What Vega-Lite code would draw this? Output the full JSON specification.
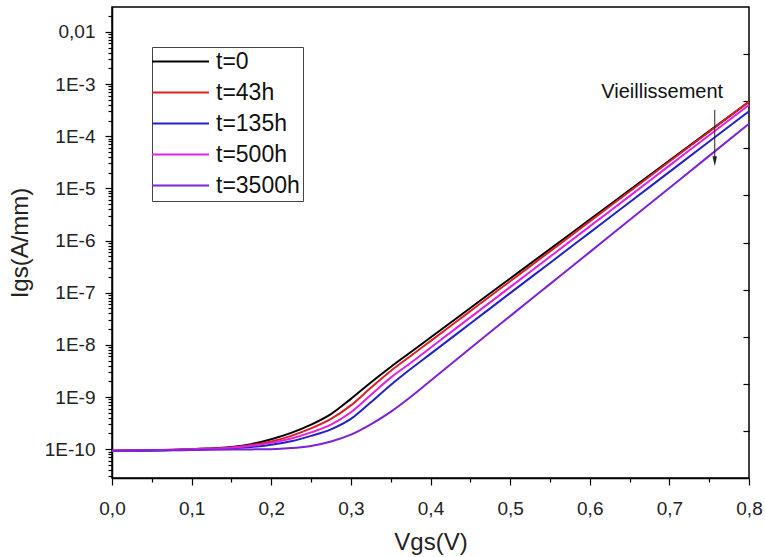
{
  "$schema": "https://vega.github.io/schema/vega-lite/v6.json",
  "width": 637,
  "height": 471,
  "autosize": {"type": "none"},
  "padding": {"left": 112, "top": 7, "right": 16, "bottom": 79},
  "background": "white",
  "config": {
    "font": "Liberation Sans",
    "view": {"stroke": "#000", "strokeWidth": 1.5},
    "axis": {"domainColor": "#000", "domainWidth": 1.5, "tickColor": "#000", "tickWidth": 1.2, "labelColor": "#222", "titleColor": "#222", "labelFont": "Liberation Sans", "titleFont": "Liberation Sans", "titleFontWeight": "normal", "grid": false, "labelOverlap": false, "labelBound": false, "labelFlush": false}
  },
  "datasets": {
    "curves": [
      {"t": "t=0", "Vgs": 0, "Igs": 9.3e-11}, {"t": "t=0", "Vgs": 0.05, "Igs": 9.5e-11}, {"t": "t=0", "Vgs": 0.1, "Igs": 1.0e-10}, {"t": "t=0", "Vgs": 0.15, "Igs": 1.1e-10}, {"t": "t=0", "Vgs": 0.175, "Igs": 1.25e-10}, {"t": "t=0", "Vgs": 0.2, "Igs": 1.55e-10}, {"t": "t=0", "Vgs": 0.225, "Igs": 2.05e-10}, {"t": "t=0", "Vgs": 0.25, "Igs": 2.95e-10}, {"t": "t=0", "Vgs": 0.275, "Igs": 4.7e-10}, {"t": "t=0", "Vgs": 0.3, "Igs": 9.2e-10}, {"t": "t=0", "Vgs": 0.325, "Igs": 1.9e-9}, {"t": "t=0", "Vgs": 0.35, "Igs": 3.77e-9}, {"t": "t=0", "Vgs": 0.375, "Igs": 7.2e-9}, {"t": "t=0", "Vgs": 0.4, "Igs": 1.38e-8}, {"t": "t=0", "Vgs": 0.45, "Igs": 5.08e-8}, {"t": "t=0", "Vgs": 0.5, "Igs": 1.87e-7}, {"t": "t=0", "Vgs": 0.55, "Igs": 6.85e-7}, {"t": "t=0", "Vgs": 0.6, "Igs": 2.52e-6}, {"t": "t=0", "Vgs": 0.65, "Igs": 9.25e-6}, {"t": "t=0", "Vgs": 0.7, "Igs": 3.4e-5}, {"t": "t=0", "Vgs": 0.75, "Igs": 1.25e-4}, {"t": "t=0", "Vgs": 0.8, "Igs": 4.58e-4},
      {"t": "t=43h", "Vgs": 0, "Igs": 9.3e-11}, {"t": "t=43h", "Vgs": 0.05, "Igs": 9.5e-11}, {"t": "t=43h", "Vgs": 0.1, "Igs": 1.0e-10}, {"t": "t=43h", "Vgs": 0.15, "Igs": 1.08e-10}, {"t": "t=43h", "Vgs": 0.175, "Igs": 1.2e-10}, {"t": "t=43h", "Vgs": 0.2, "Igs": 1.4e-10}, {"t": "t=43h", "Vgs": 0.225, "Igs": 1.8e-10}, {"t": "t=43h", "Vgs": 0.25, "Igs": 2.5e-10}, {"t": "t=43h", "Vgs": 0.275, "Igs": 3.8e-10}, {"t": "t=43h", "Vgs": 0.3, "Igs": 6.9e-10}, {"t": "t=43h", "Vgs": 0.325, "Igs": 1.5e-9}, {"t": "t=43h", "Vgs": 0.35, "Igs": 3.16e-9}, {"t": "t=43h", "Vgs": 0.375, "Igs": 6.1e-9}, {"t": "t=43h", "Vgs": 0.4, "Igs": 1.18e-8}, {"t": "t=43h", "Vgs": 0.45, "Igs": 4.43e-8}, {"t": "t=43h", "Vgs": 0.5, "Igs": 1.66e-7}, {"t": "t=43h", "Vgs": 0.55, "Igs": 6.2e-7}, {"t": "t=43h", "Vgs": 0.6, "Igs": 2.33e-6}, {"t": "t=43h", "Vgs": 0.65, "Igs": 8.7e-6}, {"t": "t=43h", "Vgs": 0.7, "Igs": 3.27e-5}, {"t": "t=43h", "Vgs": 0.75, "Igs": 1.22e-4}, {"t": "t=43h", "Vgs": 0.8, "Igs": 4.6e-4},
      {"t": "t=135h", "Vgs": 0, "Igs": 9.2e-11}, {"t": "t=135h", "Vgs": 0.05, "Igs": 9.4e-11}, {"t": "t=135h", "Vgs": 0.1, "Igs": 9.8e-11}, {"t": "t=135h", "Vgs": 0.15, "Igs": 1.04e-10}, {"t": "t=135h", "Vgs": 0.175, "Igs": 1.1e-10}, {"t": "t=135h", "Vgs": 0.2, "Igs": 1.22e-10}, {"t": "t=135h", "Vgs": 0.225, "Igs": 1.42e-10}, {"t": "t=135h", "Vgs": 0.25, "Igs": 1.8e-10}, {"t": "t=135h", "Vgs": 0.275, "Igs": 2.4e-10}, {"t": "t=135h", "Vgs": 0.3, "Igs": 3.8e-10}, {"t": "t=135h", "Vgs": 0.325, "Igs": 7.9e-10}, {"t": "t=135h", "Vgs": 0.35, "Igs": 1.7e-9}, {"t": "t=135h", "Vgs": 0.375, "Igs": 3.44e-9}, {"t": "t=135h", "Vgs": 0.4, "Igs": 6.7e-9}, {"t": "t=135h", "Vgs": 0.45, "Igs": 2.56e-8}, {"t": "t=135h", "Vgs": 0.5, "Igs": 9.8e-8}, {"t": "t=135h", "Vgs": 0.55, "Igs": 3.72e-7}, {"t": "t=135h", "Vgs": 0.6, "Igs": 1.42e-6}, {"t": "t=135h", "Vgs": 0.65, "Igs": 5.42e-6}, {"t": "t=135h", "Vgs": 0.7, "Igs": 2.07e-5}, {"t": "t=135h", "Vgs": 0.75, "Igs": 7.9e-5}, {"t": "t=135h", "Vgs": 0.8, "Igs": 3.01e-4},
      {"t": "t=500h", "Vgs": 0, "Igs": 9.3e-11}, {"t": "t=500h", "Vgs": 0.05, "Igs": 9.5e-11}, {"t": "t=500h", "Vgs": 0.1, "Igs": 1.0e-10}, {"t": "t=500h", "Vgs": 0.15, "Igs": 1.07e-10}, {"t": "t=500h", "Vgs": 0.175, "Igs": 1.16e-10}, {"t": "t=500h", "Vgs": 0.2, "Igs": 1.32e-10}, {"t": "t=500h", "Vgs": 0.225, "Igs": 1.6e-10}, {"t": "t=500h", "Vgs": 0.25, "Igs": 2.1e-10}, {"t": "t=500h", "Vgs": 0.275, "Igs": 2.95e-10}, {"t": "t=500h", "Vgs": 0.3, "Igs": 5.1e-10}, {"t": "t=500h", "Vgs": 0.325, "Igs": 1.09e-9}, {"t": "t=500h", "Vgs": 0.35, "Igs": 2.35e-9}, {"t": "t=500h", "Vgs": 0.375, "Igs": 4.5e-9}, {"t": "t=500h", "Vgs": 0.4, "Igs": 8.8e-9}, {"t": "t=500h", "Vgs": 0.45, "Igs": 3.36e-8}, {"t": "t=500h", "Vgs": 0.5, "Igs": 1.28e-7}, {"t": "t=500h", "Vgs": 0.55, "Igs": 4.9e-7}, {"t": "t=500h", "Vgs": 0.6, "Igs": 1.87e-6}, {"t": "t=500h", "Vgs": 0.65, "Igs": 7.1e-6}, {"t": "t=500h", "Vgs": 0.7, "Igs": 2.73e-5}, {"t": "t=500h", "Vgs": 0.75, "Igs": 1.04e-4}, {"t": "t=500h", "Vgs": 0.8, "Igs": 3.98e-4},
      {"t": "t=3500h", "Vgs": 0, "Igs": 9.3e-11}, {"t": "t=3500h", "Vgs": 0.05, "Igs": 9.4e-11}, {"t": "t=3500h", "Vgs": 0.1, "Igs": 9.6e-11}, {"t": "t=3500h", "Vgs": 0.15, "Igs": 9.8e-11}, {"t": "t=3500h", "Vgs": 0.175, "Igs": 9.9e-11}, {"t": "t=3500h", "Vgs": 0.2, "Igs": 1.0e-10}, {"t": "t=3500h", "Vgs": 0.225, "Igs": 1.05e-10}, {"t": "t=3500h", "Vgs": 0.25, "Igs": 1.15e-10}, {"t": "t=3500h", "Vgs": 0.275, "Igs": 1.4e-10}, {"t": "t=3500h", "Vgs": 0.3, "Igs": 1.9e-10}, {"t": "t=3500h", "Vgs": 0.325, "Igs": 3.0e-10}, {"t": "t=3500h", "Vgs": 0.35, "Igs": 5.2e-10}, {"t": "t=3500h", "Vgs": 0.375, "Igs": 1.0e-9}, {"t": "t=3500h", "Vgs": 0.4, "Igs": 2.05e-9}, {"t": "t=3500h", "Vgs": 0.45, "Igs": 8.6e-9}, {"t": "t=3500h", "Vgs": 0.5, "Igs": 3.55e-8}, {"t": "t=3500h", "Vgs": 0.55, "Igs": 1.46e-7}, {"t": "t=3500h", "Vgs": 0.6, "Igs": 6.0e-7}, {"t": "t=3500h", "Vgs": 0.65, "Igs": 2.48e-6}, {"t": "t=3500h", "Vgs": 0.7, "Igs": 1.02e-5}, {"t": "t=3500h", "Vgs": 0.75, "Igs": 4.2e-5}, {"t": "t=3500h", "Vgs": 0.8, "Igs": 1.74e-4}
    ],
    "note": [{"Vgs": 0.691, "Igs": 7.1e-4, "label": "Vieillissement"}],
    "arrow": [{"Vgs": 0.757, "Igs": 3.2e-4, "Igs2": 3.3e-5}]
  },
  "layer": [
    {
      "data": {"name": "curves"},
      "mark": {"type": "line", "strokeWidth": 2, "interpolate": "monotone", "clip": true},
      "encoding": {
        "x": {
          "field": "Vgs", "type": "quantitative",
          "scale": {"domain": [0, 0.8], "nice": false, "zero": false},
          "axis": {
            "orient": "bottom", "title": "Vgs(V)", "titleFontSize": 24, "titlePadding": 12,
            "values": [0, 0.1, 0.2, 0.3, 0.4, 0.5, 0.6, 0.7, 0.8],
            "labelExpr": "replace(format(datum.value, '.1f'), '.', ',')",
            "tickSize": 7, "labelFontSize": 19, "labelPadding": 14
          }
        },
        "y": {
          "field": "Igs", "type": "quantitative",
          "scale": {"type": "log", "domain": [2.8e-11, 0.03], "nice": false},
          "axis": {
            "orient": "left", "title": "Igs(A/mm)", "titleFontSize": 24, "titlePadding": 12,
            "values": [1e-10, 1e-9, 1e-8, 1e-7, 1e-6, 1e-5, 1e-4, 1e-3, 1e-2],
            "labelExpr": "datum.value > 0.005 ? '0,01' : '1E' + round(log(datum.value)/LN10)",
            "tickSize": 7, "labelFontSize": 19, "labelPadding": 10
          }
        },
        "color": {
          "field": "t", "type": "nominal",
          "scale": {"domain": ["t=0", "t=43h", "t=135h", "t=500h", "t=3500h"], "range": ["#000000", "#dc1e26", "#2222c4", "#e31fe0", "#7b22d8"]},
          "legend": {
            "title": null, "orient": "none", "legendX": 40, "legendY": 40,
            "symbolType": "M -5 0 L 5 0", "symbolStrokeWidth": 2.2, "symbolSize": 130, "symbolOffset": 14,
            "labelFontSize": 23, "labelFont": "Liberation Sans", "labelColor": "#111", "labelOffset": 24,
            "strokeColor": "#444", "padding": 3, "rowPadding": 7
          }
        }
      }
    },
    {
      "data": {"name": "curves"},
      "mark": {"type": "point", "opacity": 0},
      "encoding": {
        "x": {
          "field": "Vgs", "type": "quantitative",
          "axis": {"orient": "bottom", "title": null, "labels": false, "domain": false, "tickSize": 4,
            "values": [0.05, 0.15, 0.25, 0.35, 0.45, 0.55, 0.65, 0.75]}
        },
        "y": {
          "field": "Igs", "type": "quantitative",
          "scale": {"type": "log", "domain": [2.8e-11, 0.03], "nice": false},
          "axis": {"orient": "left", "title": null, "labels": false, "domain": false, "tickSize": 4,
            "values": [3e-11, 4e-11, 5e-11, 6e-11, 7e-11, 8e-11, 9e-11,
              2e-10, 3e-10, 4e-10, 5e-10, 6e-10, 7e-10, 8e-10, 9e-10,
              2e-9, 3e-9, 4e-9, 5e-9, 6e-9, 7e-9, 8e-9, 9e-9,
              2e-8, 3e-8, 4e-8, 5e-8, 6e-8, 7e-8, 8e-8, 9e-8,
              2e-7, 3e-7, 4e-7, 5e-7, 6e-7, 7e-7, 8e-7, 9e-7,
              2e-6, 3e-6, 4e-6, 5e-6, 6e-6, 7e-6, 8e-6, 9e-6,
              2e-5, 3e-5, 4e-5, 5e-5, 6e-5, 7e-5, 8e-5, 9e-5,
              2e-4, 3e-4, 4e-4, 5e-4, 6e-4, 7e-4, 8e-4, 9e-4,
              2e-3, 3e-3, 4e-3, 5e-3, 6e-3, 7e-3, 8e-3, 9e-3,
              2e-2]}
        }
      }
    },
    {
      "data": {"name": "curves"},
      "mark": {"type": "point", "opacity": 0},
      "encoding": {
        "y": {
          "field": "Igs", "type": "quantitative",
          "scale": {"type": "log", "domain": [2.8e-11, 0.03], "nice": false},
          "axis": {"orient": "right", "title": null, "labels": false, "domain": false, "tickSize": -6,
            "values": [3.75e-3, 4.69e-4, 5.86e-5, 7.33e-6, 9.16e-7, 1.146e-7, 1.432e-8, 1.79e-9, 2.24e-10]}
        }
      }
    },
    {
      "data": {"name": "note"},
      "mark": {"type": "text", "fontSize": 20, "font": "Liberation Sans", "color": "#111", "align": "center", "baseline": "middle"},
      "encoding": {
        "x": {"field": "Vgs", "type": "quantitative", "axis": null},
        "y": {"field": "Igs", "type": "quantitative", "scale": {"type": "log", "domain": [2.8e-11, 0.03], "nice": false}, "axis": null},
        "text": {"field": "label"}
      }
    },
    {
      "data": {"name": "arrow"},
      "mark": {"type": "rule", "color": "#222", "strokeWidth": 1},
      "encoding": {
        "x": {"field": "Vgs", "type": "quantitative", "axis": null},
        "y": {"field": "Igs", "type": "quantitative", "scale": {"type": "log", "domain": [2.8e-11, 0.03], "nice": false}, "axis": null},
        "y2": {"field": "Igs2"}
      }
    },
    {
      "data": {"name": "arrow"},
      "mark": {"type": "point", "shape": "M -0.45 -1 L 0.45 -1 L 0 1 Z", "filled": true, "color": "#222", "opacity": 1, "size": 100},
      "encoding": {
        "x": {"field": "Vgs", "type": "quantitative", "axis": null},
        "y": {"field": "Igs2", "type": "quantitative", "scale": {"type": "log", "domain": [2.8e-11, 0.03], "nice": false}, "axis": null}
      }
    }
  ],
  "resolve": {"axis": {"x": "independent", "y": "independent"}}
}
